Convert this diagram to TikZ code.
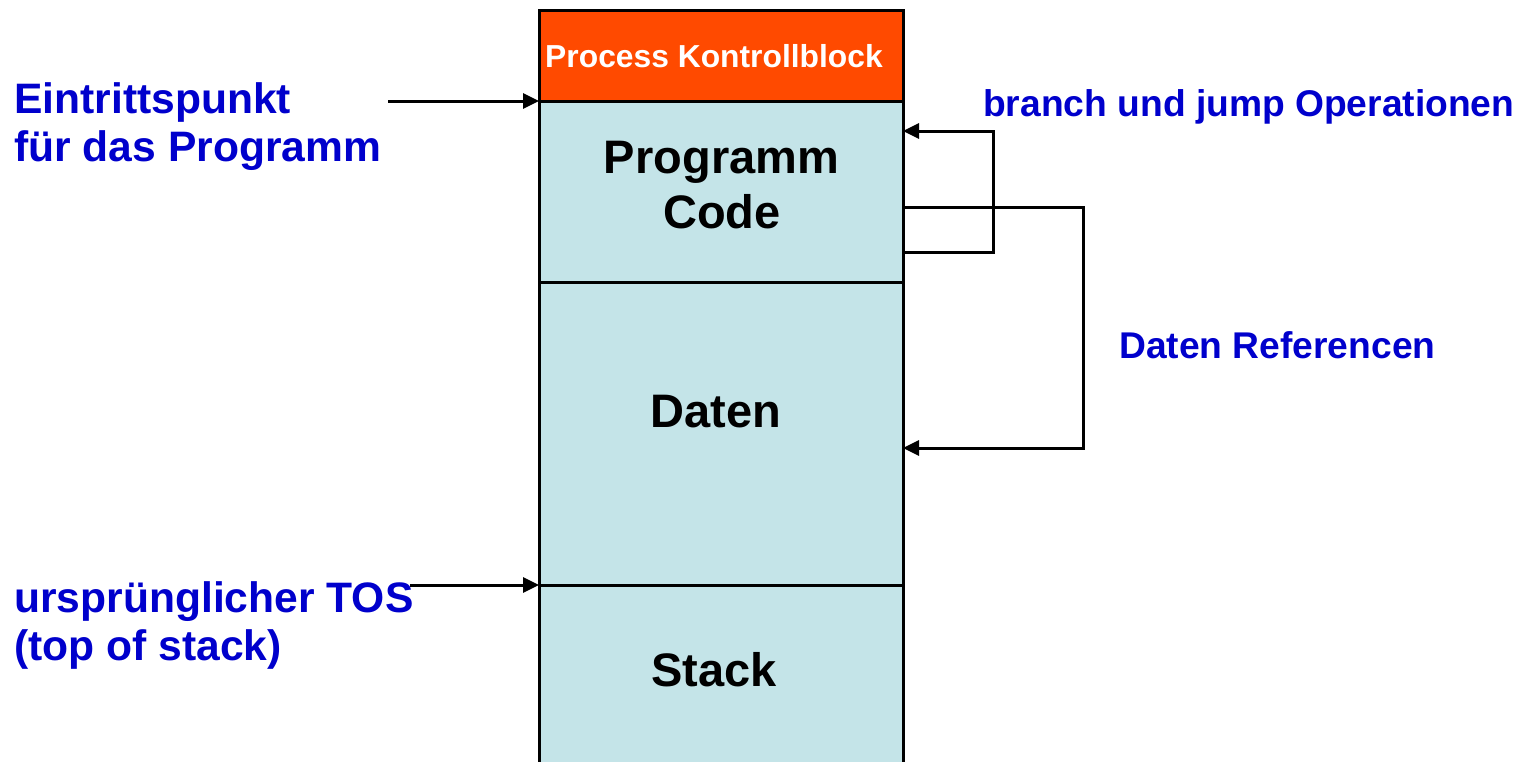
\documentclass[tikz,border=0pt]{standalone}
\usepackage{fontspec}
\setmainfont{Liberation Sans}
\usetikzlibrary{arrows.meta}

\definecolor{pcbfill}{HTML}{FF4A00}
\definecolor{segfill}{HTML}{C4E4E8}
\definecolor{labelblue}{HTML}{0000CC}

\tikzset{
  segbox/.style={draw=black, line width=3pt, fill=segfill, minimum width=364pt,
                 inner sep=0pt, outer sep=0pt, anchor=north west},
  pcbbox/.style={segbox, fill=pcbfill},
  boxtext/.style={anchor=base, font=\fontsize{47}{53}\selectfont\bfseries, text=black, inner sep=0pt},
  sidetext/.style={anchor=base west, font=\fontsize{42.6}{48}\selectfont\bfseries, text=labelblue, inner sep=0pt},
  reftext/.style={anchor=base west, font=\fontsize{37.2}{44}\selectfont\bfseries, text=labelblue, inner sep=0pt},
  conn/.style={draw=black, line width=3pt, arrows={-Triangle[length=16pt, width=15pt]}},
}

\begin{document}
\begin{tikzpicture}[x=1pt, y=-1pt]
  \useasboundingbox (0,0) rectangle (1522,761);

  % memory layout of the process image
  \node[segbox, minimum height=250pt] (stack) at (539,585) {};
  \node[segbox, minimum height=303pt] (data)  at (539,282) {};
  \node[segbox, minimum height=181pt] (code)  at (539,101) {};
  \node[pcbbox, minimum height=91pt]  (pcb)   at (539,10)  {};

  % segment captions
  \node[anchor=base, font=\fontsize{31.8}{36}\selectfont\bfseries, text=white, inner sep=0pt]
       (pcbtxt) at (714,67) {Process Kontrollblock};
  \node[boxtext] (codetxt1) at (721.5,173) {Programm};
  \node[boxtext] (codetxt2) at (722,228) {Code};
  \node[boxtext] (datatxt)  at (716,427) {Daten};
  \node[boxtext] (stacktxt) at (714,686) {Stack};

  % side labels
  \node[sidetext] (entry1) at (14,113) {Eintrittspunkt};
  \node[sidetext] (entry2) at (14,161) {für das Programm};
  \node[sidetext] (tos1)   at (14,612) {ursprünglicher TOS};
  \node[sidetext] (tos2)   at (14,660) {(top of stack)};
  \node[reftext]  (branch) at (983,116) {branch und jump Operationen};
  \node[reftext]  (dref)   at (1119,358) {Daten Referencen};

  % entry point and initial top of stack
  \coordinate (entrystart) at (388,101);
  \coordinate (tosstart)   at (410,585);
  \path[conn] (entrystart) -- (code.north west);
  \path[conn] (tosstart) -- (stack.north west);

  % branch/jump loop within the code segment
  \coordinate (jmpfrom) at (903,252);
  \coordinate (jmpto)   at (903,131);
  \path[conn] (jmpfrom) -- (993,252) -- (993,131) -- (jmpto);

  % data references from code into the data segment
  \coordinate (reffrom) at (903,207);
  \coordinate (refto)   at (903,448);
  \path[conn] (reffrom) -- (1083,207) -- (1083,448) -- (refto);
\end{tikzpicture}
\end{document}
